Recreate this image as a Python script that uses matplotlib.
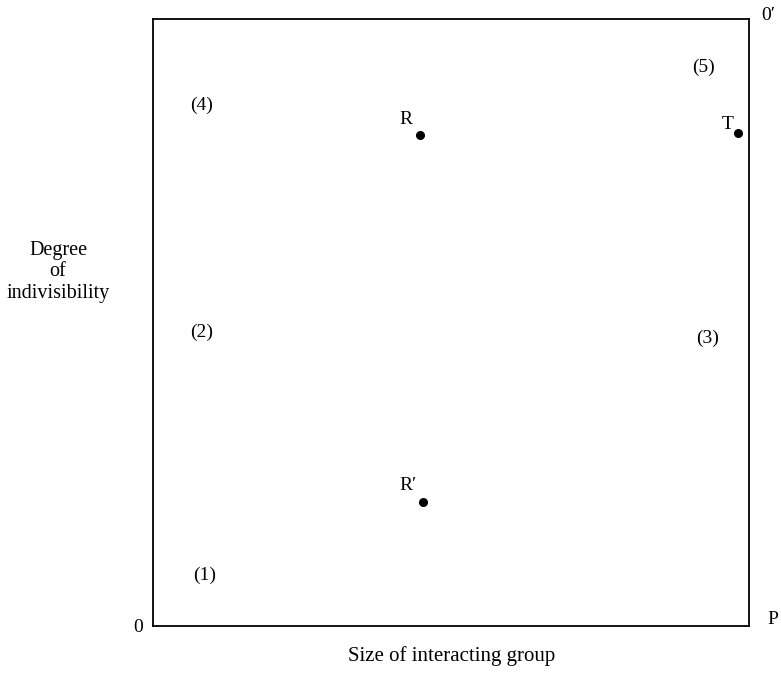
import matplotlib
matplotlib.use("Agg")
import matplotlib.pyplot as plt

# Named points (data coords, axes 0-100)
point_names = ["R", "R\u2032", "T"]
point_x = [44.8, 45.3, 98.2]
point_y = [80.9, 20.4, 81.2]

region_labels = ["(1)", "(2)", "(3)", "(4)", "(5)"]
region_x = [8.7, 8.2, 93.0, 8.2, 92.3]
region_y = [8.4, 48.4, 47.4, 85.8, 92.1]

x_label = "Size of interacting group"
y_label = "Degree\nof\nindivisibility"

plt.rcParams['font.family'] = ['Liberation Serif', 'DejaVu Serif']

fig = plt.figure(figsize=(7.81, 6.74), dpi=100)
ax = fig.add_axes([153/781, 1-626/674, 596/781, 607/674])
ax.set_xlim(0, 100)
ax.set_ylim(0, 100)
ax.set_xticks([])
ax.set_yticks([])
for s in ax.spines.values():
    s.set_linewidth(1.3)
    s.set_color("black")

ax.plot(point_x, point_y, "o", color="black", markersize=5.5, clip_on=False)
offsets = [(-10, 11), (-11, 12), (-8, 6)]
for n, x, y, off in zip(point_names, point_x, point_y, offsets):
    ax.annotate(n, (x, y), xytext=off, textcoords="offset points",
                ha="center", va="center", fontsize=14)

for lab, x, y in zip(region_labels, region_x, region_y):
    ax.text(x, y, lab, ha="center", va="center", fontsize=14)

# corner labels
fig.text(138/781, 1-627/674, "0", ha="center", va="center", fontsize=14)
fig.text(773/781, 1-620/674, "P", ha="center", va="center", fontsize=14)
fig.text(768/781, 1-16/674, "0\u2032", ha="center", va="center", fontsize=14)

fig.text(452/781, 1-656/674, x_label, ha="center", va="center", fontsize=15)
fig.text(58/781, 1-272/674, y_label, ha="center", va="center", fontsize=14.5,
         multialignment="center", linespacing=1.15)

fig.savefig("out.png", dpi=100)
